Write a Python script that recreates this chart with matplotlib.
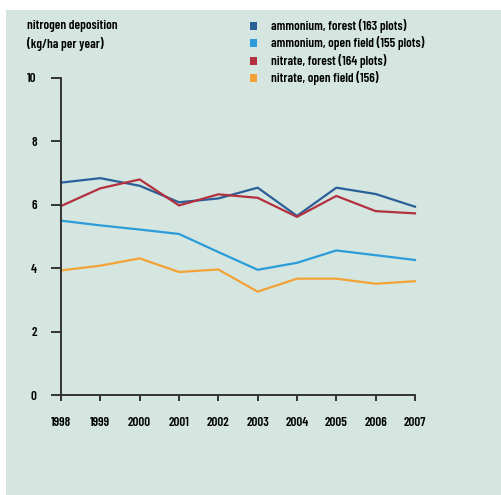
import numpy as np
from matplotlib import pyplot as plt
from matplotlib.patches import Rectangle

# nitrogen deposition data
years = [1998, 1999, 2000, 2001, 2002, 2003, 2004, 2005, 2006, 2007]
amm_forest = [6.70, 6.84, 6.60, 6.08, 6.20, 6.54, 5.65, 6.54, 6.34, 5.94]
amm_open = [5.50, 5.35, 5.22, 5.08, 4.51, 3.95, 4.17, 4.56, 4.41, 4.26]
nit_forest = [5.96, 6.52, 6.80, 5.98, 6.33, 6.22, 5.62, 6.28, 5.80, 5.73]
nit_open = [3.93, 4.08, 4.31, 3.88, 3.96, 3.26, 3.67, 3.67, 3.51, 3.59]
labels = ['ammonium, forest (163 plots)', 'ammonium, open field (155 plots)',
          'nitrate, forest (164 plots)', 'nitrate, open field (156)']
colors = ['#2b5f98', '#2b9bd9', '#b3303f', '#f4a235']

plt.rcParams['font.family'] = ['Barlow Condensed', 'DejaVu Sans']
fs = 9.4
fw = 600
bg = '#d4e6df'

fig = plt.figure(figsize=(5.01, 4.95), dpi=100)
fig.patch.set_facecolor('white')
fig.patches.append(Rectangle((6/501, 0), 1, 485/495, transform=fig.transFigure,
                             facecolor=bg, edgecolor='none', zorder=-10))

ax = fig.add_axes([61/501, 1-395/495, 354/501, 317/495])
ax.patch.set_alpha(0)

for ys, c in zip([amm_forest, amm_open, nit_forest, nit_open], colors):
    ax.plot(years, ys, color=c, lw=1.6, clip_on=False)

ax.set_xlim(1998, 2007)
ax.set_ylim(0, 10)
ax.set_xticks(years)
ax.set_yticks([0, 2, 4, 6, 8, 10])
ax.spines['top'].set_visible(False)
ax.spines['right'].set_visible(False)
for s in ['left', 'bottom']:
    ax.spines[s].set_color('#333333')
    ax.spines[s].set_linewidth(1.4)
ax.tick_params(axis='y', length=7.5, width=1.4, color='#333333', pad=10,
               labelsize=fs)
ax.tick_params(axis='x', length=4.5, width=1.4, color='#333333', pad=11,
               labelsize=fs)
for t in ax.get_xticklabels() + ax.get_yticklabels():
    t.set_fontweight(fw)

fig.text(27/501, 1-26/495, 'nitrogen deposition', fontsize=fs, fontweight=fw,
         va='center', ha='left')
fig.text(27/501, 1-44/495, '(kg/ha per year)', fontsize=fs, fontweight=fw,
         va='center', ha='left')

# legend
leg_y = [26, 43, 61, 78]
for yy, lab, c in zip(leg_y, labels, colors):
    fig.patches.append(Rectangle((250/501, 1-(yy+4)/495), 7/501, 8/495,
                                 transform=fig.transFigure, facecolor=c,
                                 edgecolor='none'))
    fig.text(271/501, 1-yy/495, lab, fontsize=fs, fontweight=fw,
             va='center', ha='left')

fig.savefig('out.png', dpi=100)
